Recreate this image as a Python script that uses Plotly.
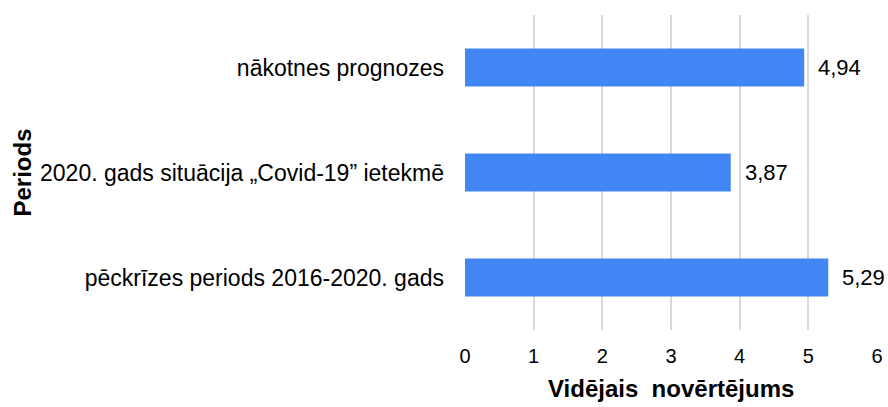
import plotly.graph_objects as go

categories = ["pēckrīzes periods 2016-2020. gads",
              "2020. gads situācija „Covid-19” ietekmē",
              "nākotnes prognozes"]
values = [5.29, 3.87, 4.94]
x_ticks = [0, 1, 2, 3, 4, 5, 6]
x_title = "Vidējais\u00a0 novērtējums"
y_title = "Periods"

FONT = "Liberation Sans, Arial, sans-serif"
W, H = 888, 407
L, R, T, B = 465, 11, 15, 77

fig = go.Figure()
fig.add_trace(go.Bar(
    x=values, y=categories, orientation="h",
    marker=dict(color="#4285F4", line=dict(width=0)),
    width=0.36, hoverinfo="skip",
))

for c, v in zip(categories, values):
    fig.add_annotation(x=v, y=c, xref="x", yref="y",
                       text=f"{v:.2f}".replace(".", ","),
                       showarrow=False, xanchor="left", xshift=12,
                       font=dict(family=FONT, size=22, color="#000000"))

fig.add_annotation(xref="paper", yref="paper", x=0.5, y=-(388 - (H - B)) / (H - T - B),
                   text=f"<b>{x_title}</b>", showarrow=False,
                   xanchor="center", yanchor="middle",
                   font=dict(family=FONT, size=24, color="#000000"))
fig.add_annotation(xref="paper", yref="paper", x=-(L - 22) / (W - L - R), y=0.5,
                   text=f"<b>{y_title}</b>", showarrow=False, textangle=-90,
                   xanchor="center", yanchor="middle",
                   font=dict(family=FONT, size=24, color="#000000"))

fig.update_layout(
    width=W, height=H,
    margin=dict(l=L, r=R, t=T, b=B, autoexpand=False),
    paper_bgcolor="white", plot_bgcolor="white",
    showlegend=False,
    font=dict(family=FONT, size=20, color="#000000"),
    xaxis=dict(range=[0, 6], tickvals=x_ticks, showgrid=True,
               gridcolor="#d9d9d9", gridwidth=2, zeroline=False,
               showline=False, ticks="", ticklabelstandoff=12,
               tickfont=dict(family=FONT, size=20, color="#000000"),
               automargin=False, fixedrange=True),
    yaxis=dict(showgrid=False, zeroline=False, showline=False, ticks="",
               ticklabelstandoff=20,
               tickfont=dict(family=FONT, size=23, color="#000000"),
               automargin=False, fixedrange=True),
)

fig.write_html("out.html", config={"displayModeBar": False},
               post_script="document.body.style.margin='0';document.body.style.overflow='hidden';")
